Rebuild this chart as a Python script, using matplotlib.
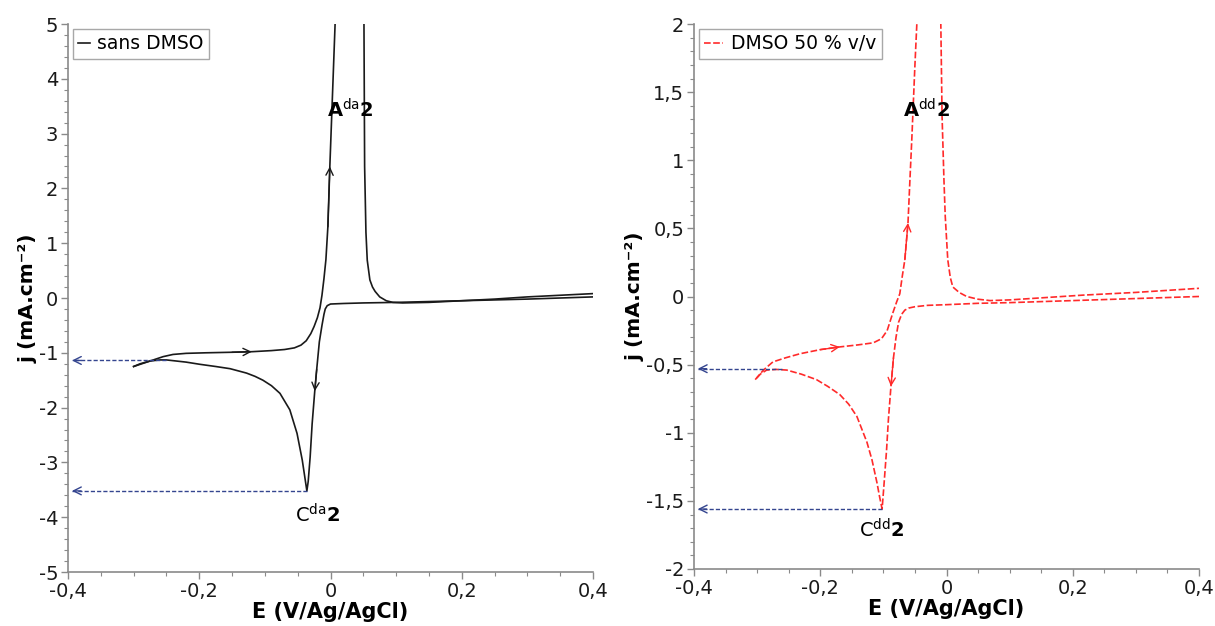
import matplotlib
matplotlib.use("Agg")
import matplotlib.pyplot as plt
from matplotlib.ticker import MultipleLocator
import numpy as np

plt.rcParams['font.family'] = ['DejaVu Sans']
plt.rcParams['mathtext.fontset'] = 'dejavusans'

# ---------------- data : sans DMSO ----------------
E_fwd_a = [-0.300, -0.285, -0.270, -0.255, -0.240, -0.220, -0.190, -0.150, -0.120, -0.090,
           -0.070, -0.055, -0.045, -0.037, -0.030, -0.025, -0.020, -0.016, -0.013, -0.010,
           -0.007, -0.004, -0.001, 0.003, 0.007, 0.009, 0.048, 0.051, 0.052, 0.054,
           0.056, 0.060, 0.064, 0.068, 0.075, 0.085, 0.095, 0.110, 0.150, 0.200,
           0.250, 0.300, 0.350, 0.400]
j_fwd_a = [-1.25, -1.19, -1.13, -1.07, -1.03, -1.01, -1.00, -0.99, -0.98, -0.96,
           -0.94, -0.91, -0.86, -0.78, -0.65, -0.52, -0.36, -0.18, 0.05, 0.35,
           0.70, 1.30, 2.40, 3.70, 5.00, 5.60, 5.60, 5.00, 2.40, 1.20,
           0.69, 0.33, 0.20, 0.12, 0.02, -0.05, -0.08, -0.09, -0.08, -0.05,
           -0.02, 0.02, 0.05, 0.08]
E_rev_a = [0.400, 0.300, 0.200, 0.100, 0.050, 0.020, 0.000, -0.005, -0.008, -0.010,
           -0.013, -0.017, -0.021, -0.024, -0.028, -0.031, -0.034, -0.036, -0.043, -0.051,
           -0.062, -0.077, -0.090, -0.103, -0.115, -0.128, -0.153, -0.175, -0.199, -0.220,
           -0.235, -0.250, -0.260, -0.275, -0.290, -0.300]
j_rev_a = [0.02, -0.02, -0.05, -0.08, -0.09, -0.10, -0.11, -0.14, -0.20, -0.30,
           -0.50, -0.80, -1.30, -1.70, -2.30, -2.90, -3.35, -3.52, -2.96, -2.47,
           -2.04, -1.74, -1.60, -1.50, -1.43, -1.37, -1.29, -1.25, -1.21, -1.17,
           -1.15, -1.13, -1.13, -1.15, -1.20, -1.25]
arrows_fwd_a = [8, 22]      # indices of arrow tips on forward scan
arrows_rev_a = [13]         # indices of arrow tips on reverse scan
guide_a = [(-0.250, -1.14)] # extra guide start point (E, j)
label_A_a = (0.030, 3.43)
label_C_a = (-0.020, -3.96)

# ---------------- data : DMSO 50 % v/v ----------------
E_fwd_d = [-0.303, -0.290, -0.275, -0.255, -0.232, -0.200, -0.169, -0.140, -0.116, -0.103,
           -0.094, -0.085, -0.079, -0.074, -0.070, -0.066, -0.061, -0.058, -0.055, -0.053,
           -0.050, -0.047, -0.046, -0.010, -0.009, -0.007, -0.004, -0.002, 0.002, 0.006,
           0.010, 0.020, 0.032, 0.050, 0.069, 0.100, 0.150, 0.216, 0.300, 0.400]
j_fwd_d = [-0.61, -0.54, -0.48, -0.45, -0.42, -0.39, -0.37, -0.355, -0.34, -0.31,
           -0.25, -0.12, -0.04, 0.02, 0.15, 0.27, 0.54, 0.85, 1.15, 1.37,
           1.70, 2.00, 2.10, 2.10, 2.00, 1.32, 0.85, 0.59, 0.27, 0.14,
           0.07, 0.03, 0.00, -0.02, -0.03, -0.025, -0.01, 0.01, 0.03, 0.06]
E_rev_d = [0.400, 0.300, 0.200, 0.100, 0.050, 0.000, -0.030, -0.050, -0.060, -0.066,
           -0.071, -0.076, -0.080, -0.084, -0.088, -0.092, -0.095, -0.099, -0.102, -0.106,
           -0.110, -0.118, -0.126, -0.142, -0.155, -0.169, -0.188, -0.206, -0.230, -0.253,
           -0.270, -0.285, -0.295, -0.303]
j_rev_d = [0.00, -0.015, -0.03, -0.045, -0.05, -0.06, -0.065, -0.075, -0.085, -0.10,
           -0.13, -0.19, -0.30, -0.45, -0.66, -0.90, -1.13, -1.38, -1.56, -1.47,
           -1.37, -1.20, -1.07, -0.88, -0.79, -0.72, -0.66, -0.61, -0.57, -0.54,
           -0.535, -0.54, -0.57, -0.61]
arrows_fwd_d = [6, 16]
arrows_rev_d = [14]
guide_d = [(-0.260, -0.53)]
label_A_d = (-0.031, 1.37)
label_C_d = (-0.102, -1.71)

xticks = [-0.4, -0.2, 0.0, 0.2, 0.4]
xticklabels = ['-0,4', '-0,2', '0', '0,2', '0,4']
yticks_a = [-5, -4, -3, -2, -1, 0, 1, 2, 3, 4, 5]
yticklabels_a = ['-5', '-4', '-3', '-2', '-1', '0', '1', '2', '3', '4', '5']
yticks_d = [-2, -1.5, -1, -0.5, 0, 0.5, 1, 1.5, 2]
yticklabels_d = ['-2', '-1,5', '-1', '-0,5', '0', '0,5', '1', '1,5', '2']

BLUE = '#34458f'
SPINE = '#8a8a8a'

fig = plt.figure(figsize=(12.15, 6.26), dpi=100)
axL = fig.add_axes([68/1215, 1-572/626, (593-68)/1215, (572-24)/626])
axR = fig.add_axes([694/1215, 1-569/626, (1199-694)/1215, (569-24)/626])


def style(ax, yticks, ylabels, yminor):
    ax.set_xlim(-0.4, 0.4)
    ax.set_ylim(yticks[0], yticks[-1])
    ax.set_xticks(xticks)
    ax.set_xticklabels(xticklabels)
    ax.set_yticks(yticks)
    ax.set_yticklabels(ylabels)
    ax.xaxis.set_minor_locator(MultipleLocator(0.05))
    ax.yaxis.set_minor_locator(MultipleLocator(yminor))
    for s in ['top', 'right']:
        ax.spines[s].set_visible(False)
    for s in ['left', 'bottom']:
        ax.spines[s].set_color(SPINE)
        ax.spines[s].set_linewidth(1.2)
    ax.tick_params(which='major', length=5, width=1, color=SPINE, labelsize=14,
                   labelcolor='#1a1a1a', direction='out', pad=2)
    ax.tick_params(which='minor', length=3, width=0.8, color=SPINE, direction='out')
    ax.set_xlabel('E (V/Ag/AgCl)', fontsize=15, fontweight='bold', labelpad=1)
    ax.set_ylabel('j (mA.cm⁻²)', fontsize=14.5, fontweight='bold', labelpad=1)


def curve_arrows(ax, E, j, idxs, color):
    for i in idxs:
        ax.annotate('', xy=(E[i], j[i]), xytext=(E[i-1], j[i-1]),
                    arrowprops=dict(arrowstyle='->', color=color, lw=1.0,
                                    shrinkA=0, shrinkB=0, mutation_scale=13))


def guide(ax, x0, y0):
    ax.plot([x0, -0.394], [y0, y0], color=BLUE, lw=1.0, ls=(0, (3, 1.5)))
    ax.annotate('', xy=(-0.394, y0), xytext=(-0.38, y0),
                arrowprops=dict(arrowstyle='->', color=BLUE, lw=1.0,
                                shrinkA=0, shrinkB=0, mutation_scale=14))


# left panel
style(axL, yticks_a, yticklabels_a, 0.2)
axL.plot(E_fwd_a, j_fwd_a, color='#1a1a1a', lw=1.2, label='sans DMSO')
axL.plot(E_rev_a, j_rev_a, color='#1a1a1a', lw=1.2)
curve_arrows(axL, E_fwd_a, j_fwd_a, arrows_fwd_a, '#1a1a1a')
curve_arrows(axL, E_rev_a, j_rev_a, arrows_rev_a, '#1a1a1a')
for (x0, y0) in guide_a:
    guide(axL, x0, y0)
kpk = int(np.argmin(j_rev_a))
guide(axL, E_rev_a[kpk], j_rev_a[kpk])
axL.text(*label_A_a, r'$\mathbf{A}^{\mathrm{da}}\mathbf{2}$', fontsize=14, ha='center', va='center')
axL.text(*label_C_a, r'$\mathrm{C}^{\mathrm{da}}\mathbf{2}$', fontsize=14, ha='center', va='center')
axL.legend(loc='upper left', bbox_to_anchor=(0.0, 1.0), borderaxespad=0.25,
           fontsize=13.5, handlelength=0.6, handletextpad=0.4, fancybox=False,
           framealpha=1, edgecolor='#a8a8a8', borderpad=0.3)

# right panel
RED = '#ff2a2a'
style(axR, yticks_d, yticklabels_d, 0.1)
axR.plot(E_fwd_d, j_fwd_d, color=RED, lw=1.2, ls=(0, (4, 1.5)), label='DMSO 50 % v/v')
axR.plot(E_rev_d, j_rev_d, color=RED, lw=1.2, ls=(0, (4, 1.5)))
curve_arrows(axR, E_fwd_d, j_fwd_d, arrows_fwd_d, RED)
curve_arrows(axR, E_rev_d, j_rev_d, arrows_rev_d, RED)
for (x0, y0) in guide_d:
    guide(axR, x0, y0)
kpk = int(np.argmin(j_rev_d))
guide(axR, E_rev_d[kpk], j_rev_d[kpk])
axR.text(*label_A_d, r'$\mathbf{A}^{\mathrm{dd}}\mathbf{2}$', fontsize=14, ha='center', va='center')
axR.text(*label_C_d, r'$\mathrm{C}^{\mathrm{dd}}\mathbf{2}$', fontsize=14, ha='center', va='center')
axR.legend(loc='upper left', bbox_to_anchor=(0.0, 1.0), borderaxespad=0.25,
           fontsize=13.5, handlelength=1.0, handletextpad=0.4, fancybox=False,
           framealpha=1, edgecolor='#a8a8a8', borderpad=0.3)

fig.savefig('out.png', dpi=100, facecolor='white')
